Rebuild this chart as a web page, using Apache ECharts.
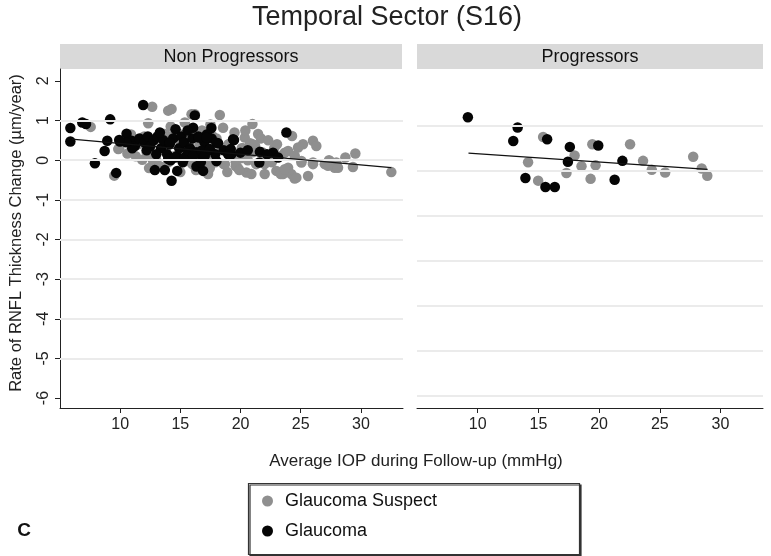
<!DOCTYPE html>
<html><head><meta charset="utf-8">
<script src="https://cdn.jsdelivr.net/npm/echarts@6/dist/echarts.min.js"></script>
<style>html,body{margin:0;padding:0;background:#fff}#c{width:771px;height:556px}</style>
</head><body><div id="c"></div>
<script>
const FONT = '"Liberation Sans", Arial, sans-serif';
const xTicks = [10, 15, 20, 25, 30];
const yTicks = [-6, -5, -4, -3, -2, -1, 0, 1, 2];
const leftGridVals = [-5, -4, -3, -2, -1, 0, 1];
const rightGridVals = [-5, -4, -3, -2, -1, 0, 1];
const seriesNames = ['Glaucoma Suspect', 'Glaucoma'];
const panelNames = ['Non Progressors', 'Progressors'];

const nonProgSuspect = [
 [7.55,0.84],[9.51,-0.39],[9.84,0.28],[10.6,0.17],[11.83,0.01],[12.33,0.93],[12.6,0.07],[12.66,1.35],[12.88,-0.06],[13.71,0.66],[13.99,1.25],[14.27,1.29],[15.37,0.95],[15.93,1.16],[16.2,1.16],[18.28,1.14],[18.55,0.82],[20.35,0.57],[20.99,0.91],[21.46,0.66],[23.03,0.40],[20.49,-0.31],[20.9,-0.35],[22.01,-0.35],[22.98,-0.27],[23.67,0.19],[23.53,-0.35],[24.28,0.61],[26.02,0.49],[26.3,0.36],[25.19,0.40],[24.78,0.32],[23.95,0.23],[24.5,0.11],[25.06,-0.06],[26.02,-0.06],[27.0,-0.1],[27.41,-0.02],[27.96,-0.06],[27.82,-0.19],[28.71,0.07],[29.54,0.17],[29.34,-0.17],[32.53,-0.30],[23.95,-0.19],[24.22,-0.35],[24.5,-0.46],[25.61,-0.40],
 [10.9,0.65],[11.3,0.1],[11.5,0.4],[12.0,0.6],[12.2,0.2],[13.0,0.0],[13.3,-0.15],[13.3,0.55],[13.8,0.3],[14.0,-0.05],[14.2,0.85],[14.5,0.1],[14.9,0.5],[15.0,-0.3],[15.3,0.2],[15.6,0.0],[15.8,0.7],[16.0,-0.1],[16.3,-0.25],[16.6,0.4],[16.8,0.75],[17.0,0.1],[17.3,-0.3],[17.5,0.9],[17.7,0.6],[17.9,-0.05],[18.2,0.3],[18.6,-0.1],[18.9,-0.3],[19.0,0.4],[19.2,0.2],[19.4,0.1],[19.5,0.7],[19.8,-0.2],[20.0,0.05],[20.1,0.3],[20.6,0.0],[21.0,0.4],[21.3,-0.1],[21.7,0.55],[21.8,0.2],[22.3,0.5],[22.6,-0.05],[22.8,0.3],[12.4,-0.2],[14.7,0.7],[16.9,0.3],[18.0,0.55],[20.4,0.75],[22.0,0.05],[23.2,0.1],[19.6,-0.05],[17.1,-0.15],[15.7,0.45],
 [20.2,0.3],[20.5,0.15],[21.0,0.2],[20.8,0.43],[21.2,0.38],[19.6,-0.15],[19.9,-0.25],[23.34,-0.35],[23.67,-0.23],[24.64,-0.44],[25.06,-0.02],[26.02,-0.1],[27.27,-0.14],[28.1,-0.19],[27.35,0.0],[22.57,-0.02],[22.0,-0.1],[17.45,-0.02],[17.45,-0.2],[17.3,-0.35],[15.5,-0.02],[18.7,-0.1],[12.74,-0.02],[12.6,0.13],[9.92,0.3],[14.2,0.6],[15.0,0.65]
];
const nonProgGlaucoma = [
 [5.86,0.81],[5.86,0.47],[6.85,0.95],[7.16,0.91],[7.90,-0.08],[8.71,0.23],[8.93,0.49],[9.17,1.03],[9.67,-0.32],[9.98,0.47],[10.53,0.67],[10.95,0.49],[11.22,0.36],[11.91,1.39],[12.88,-0.25],[13.71,-0.25],[14.27,-0.52],[14.6,0.78],[16.06,0.82],[16.2,1.13],[17.58,0.81],[19.38,0.53],[16.34,-0.16],[16.89,-0.27],[14.74,-0.27],[18.14,0.43],[18.0,-0.02],[19.24,0.15],[19.99,0.19],[21.61,0.21],[21.56,-0.06],[22.7,0.19],[23.12,0.07],[23.81,0.70],
 [11.6,0.55],[12.0,0.45],[12.3,0.6],[12.5,0.35],[12.8,0.5],[13.1,0.6],[13.4,0.3],[13.6,0.5],[13.9,0.15],[14.1,0.4],[14.4,0.55],[14.7,0.1],[14.9,0.3],[15.1,0.6],[15.3,0.45],[15.5,0.1],[15.8,0.3],[16.0,0.55],[16.3,0.2],[16.5,0.6],[16.8,0.1],[17.0,0.45],[17.3,0.25],[17.6,0.55],[17.9,0.15],[15.2,-0.05],[14.2,0.0],[13.0,0.15],[12.2,0.25],[11.0,0.3],[10.5,0.45],[16.7,-0.05],[17.2,0.65],[15.6,0.75],[13.3,0.7],[18.6,0.25],[20.6,0.25],[22.2,0.15],
 [9.92,0.51],[13.99,0.03],[14.55,0.07],[15.37,0.07],[19.46,0.51],[19.19,0.28],[16.54,0.57],[17.17,0.57],[18.0,0.44],[15.65,0.24],[16.06,0.11],[16.76,0.24],[17.03,0.11],[17.45,0.28],[18.97,0.15],[14.13,0.44]
];
const progSuspect = [
 [15.39,0.75],[19.44,0.59],[22.55,0.59],[17.98,0.34],[14.15,0.19],[18.55,0.10],[19.71,0.12],[23.62,0.22],[24.34,0.02],[25.44,-0.04],[27.75,0.31],[28.45,0.05],[28.91,-0.11],[17.31,-0.05],[14.98,-0.22],[19.30,-0.18]
];
const progGlaucoma = [
 [9.19,1.19],[13.29,0.96],[12.93,0.66],[15.72,0.70],[17.59,0.53],[19.93,0.56],[17.43,0.20],[21.92,0.22],[13.93,-0.16],[15.58,-0.36],[16.35,-0.36],[21.28,-0.20]
];
const nonProgFit = [[5.97,0.53],[32.53,-0.19]];
const progFit = [[9.24,0.39],[28.94,0.03]];

const chart = echarts.init(document.getElementById('c'), null, {renderer:'canvas'});
const GRAY = '#8f8f8f', BLACK = '#050505';
function xAxis(gi){
  return {type:'value', gridIndex:gi, min:5, max:33.5,
    axisLine:{show:true, onZero:false, lineStyle:{color:'#222', width:1}},
    axisTick:{show:true, length:5, customValues:xTicks, lineStyle:{color:'#222'}},
    axisLabel:{customValues:xTicks, color:'#222', fontSize:16, fontFamily:FONT, margin:9},
    splitLine:{show:false}};
}
function gridSeries(gi, vals){
  return {type:'scatter', xAxisIndex:gi, yAxisIndex:gi, data:[], silent:true, z:1,
    markLine:{silent:true, symbol:['none','none'], label:{show:false}, animation:false,
      lineStyle:{color:'#ebebeb', width:2, type:'solid'},
      data: vals.map(v=>({yAxis:v}))}};
}
function pts(gi, name, data, color, z){
  return {type:'scatter', name:name, xAxisIndex:gi, yAxisIndex:gi, data:data, symbol:'circle', symbolSize:10.5,
    itemStyle:{color:color, opacity:1}, z:z, emphasis:{disabled:true}};
}
function fit(gi, data){
  return {type:'line', xAxisIndex:gi, yAxisIndex:gi, data:data, symbol:'none', z:5,
    lineStyle:{color:'#111', width:1.3}, silent:true};
}
const option = {
  animation:false,
  backgroundColor:'#fff',
  grid:[{left:60, top:69, width:343, height:339},{left:417, top:69, width:346, height:339}],
  xAxis:[xAxis(0), xAxis(1)],
  yAxis:[
    {type:'value', gridIndex:0, min:-6.25, max:2.3,
      axisLine:{show:true, onZero:false, lineStyle:{color:'#222', width:1}},
      axisTick:{show:true, length:5, customValues:yTicks, lineStyle:{color:'#222'}},
      axisLabel:{customValues:yTicks, rotate:90, color:'#222', fontSize:16, fontFamily:FONT, margin:8},
      splitLine:{show:false}},
    {type:'value', gridIndex:1, min:-5.27, max:2.26,
      axisLine:{show:false, onZero:false}, axisTick:{show:false}, axisLabel:{show:false}, splitLine:{show:false}}
  ],
  legend:{left:257, top:487, orient:'vertical', itemGap:12, itemWidth:11, itemHeight:11, icon:'circle',
    data:seriesNames, selectedMode:false,
    textStyle:{fontSize:18, fontFamily:FONT, color:'#111', padding:[0,0,0,7]}},
  graphic:[
    {type:'text', x:387, y:18, style:{text:'Temporal Sector (S16)', font:'27px '+FONT, fill:'#222', align:'center', verticalAlign:'middle'}},
    {type:'rect', shape:{x:60, y:44, width:342, height:25}, style:{fill:'#d9d9d9'}, z:-1},
    {type:'rect', shape:{x:417, y:44, width:346, height:25}, style:{fill:'#d9d9d9'}, z:-1},
    {type:'text', x:231, y:57, style:{text:panelNames[0], font:'18px '+FONT, fill:'#111', align:'center', verticalAlign:'middle'}},
    {type:'text', x:590, y:57, style:{text:panelNames[1], font:'18px '+FONT, fill:'#111', align:'center', verticalAlign:'middle'}},
    {type:'text', x:16.5, y:233, rotation:Math.PI/2, style:{text:'Rate of RNFL Thickness Change (µm/year)', font:'16.5px '+FONT, fill:'#222', align:'center', verticalAlign:'middle'}},
    {type:'text', x:416, y:461, style:{text:'Average IOP during Follow-up (mmHg)', font:'17px '+FONT, fill:'#222', align:'center', verticalAlign:'middle'}},
    {type:'rect', shape:{x:248.5, y:483.5, width:331, height:71}, style:{fill:'#fff', stroke:'#333', lineWidth:1.2, shadowColor:'#333', shadowOffsetX:1.5, shadowOffsetY:1.5, shadowBlur:0}, z:-1},
    {type:'text', x:24, y:531, style:{text:'C', font:'bold 19px '+FONT, fill:'#111', align:'center', verticalAlign:'middle'}}
  ],
  series:[
    gridSeries(0, leftGridVals), gridSeries(1, rightGridVals),
    pts(0, seriesNames[0], nonProgSuspect, GRAY, 2), pts(0, seriesNames[1], nonProgGlaucoma, BLACK, 3),
    pts(1, seriesNames[0], progSuspect, GRAY, 2), pts(1, seriesNames[1], progGlaucoma, BLACK, 3),
    fit(0, nonProgFit), fit(1, progFit)
  ]
};
chart.setOption(option);
</script></body></html>
